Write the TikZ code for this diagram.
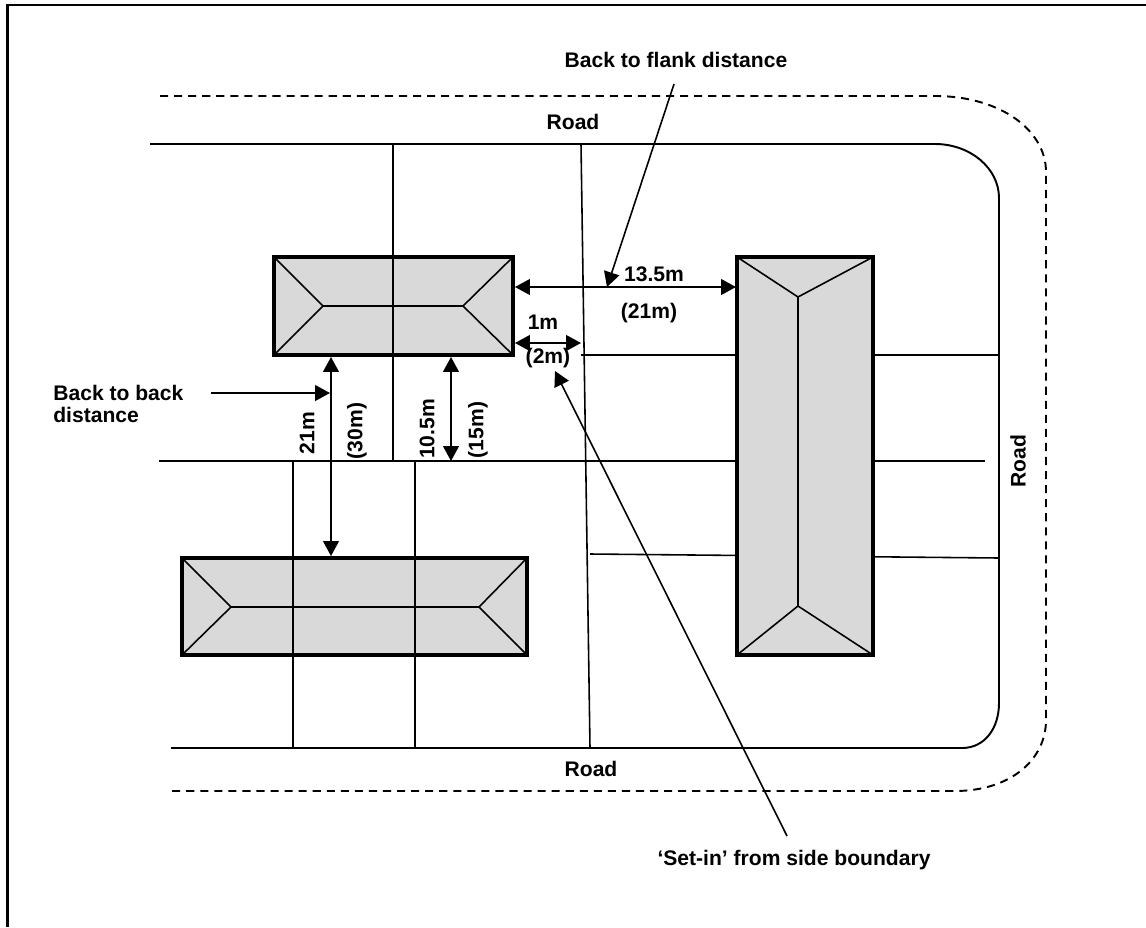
\documentclass[tikz,border=0pt]{standalone}
\usepackage{fontspec}
\setmainfont{Liberation Sans}
\usetikzlibrary{arrows.meta}
\definecolor{roofgrey}{HTML}{D9D9D9}
\tikzset{
    road/.style={line width=1.1pt},
    plotline/.style={line width=0.9pt},
    roofline/.style={line width=0.9pt},
    house/.style={fill=roofgrey, draw=black, line width=2.5pt},
    dimline/.style={line width=0.9pt, {Triangle[length=8.5pt,width=9pt]}-{Triangle[length=8.5pt,width=9pt]}},
    leader/.style={line width=0.9pt, -{Triangle[length=8.5pt,width=9pt]}},
    lbl/.style={font=\fontsize{12}{13}\selectfont\bfseries, inner sep=0pt},
}
\begin{document}
\begin{tikzpicture}[x=0.02cm, y=-0.02cm]
            \useasboundingbox (0, 0) rectangle (1146, 927);
            % frame
            \draw[line width=1.3pt] (7.5, 927) -- (7.5, 5) -- (1146, 5);
            % roads
            \draw[line width=1.1pt, dash pattern=on 4.6pt off 3.4pt] (160, 96) -- (935, 96) .. controls (1000, 96) and (1046, 130) .. (1046, 172) -- (1046, 720) .. controls (1046, 760) and (1010, 791) .. (955, 791) -- (171, 791);
            \draw[road] (150, 144) -- (935, 144) .. controls (970, 144) and (999, 168) .. (999, 198) -- (999, 703) .. controls (999, 728) and (985, 748) .. (962, 748) -- (171, 748);
            % plot boundaries
            \draw[plotline] (393, 144) -- (393, 461);
            \draw[plotline] (581, 144) -- (590, 748);
            \draw[plotline] (159, 461) -- (985, 461);
            \draw[plotline] (293, 461) -- (293, 748);
            \draw[plotline] (415, 461) -- (415, 748);
            \draw[plotline] (581, 355) -- (999, 355);
            \draw[plotline] (590, 554) -- (999, 558);
            % right house
            \draw[house] (737, 257) rectangle (873, 655);
            \draw[roofline] (737, 257) -- (798, 297) -- (873, 257);
            \draw[roofline] (798, 297) -- (798, 606);
            \draw[roofline] (737, 655) -- (798, 606) -- (873, 655);
            % top house
            \begin{scope}
                \draw[house] (274, 257) rectangle (513, 355);
                \draw[roofline] (274, 257) -- (323, 306) -- (274, 355);
                \draw[roofline] (323, 306) -- (463, 306);
                \draw[roofline] (513, 257) -- (463, 306) -- (513, 355);
                \draw[plotline] (393, 257) -- (393, 355);
            \end{scope}
            % bottom house
            \begin{scope}
                \draw[house] (182, 558) rectangle (527, 655);
                \draw[roofline] (182, 558) -- (231, 607) -- (182, 655);
                \draw[roofline] (231, 607) -- (479, 607);
                \draw[roofline] (527, 558) -- (479, 607) -- (527, 655);
                \draw[plotline] (293, 558) -- (293, 655);
                \draw[plotline] (415, 558) -- (415, 655);
            \end{scope}
            % distances
            \coordinate (flank a) at (515, 287);
            \coordinate (flank b) at (736, 287);
            \coordinate (setin a) at (515, 343);
            \coordinate (setin b) at (581, 343);
            \coordinate (back a) at (331, 357);
            \coordinate (back b) at (331, 556);
            \coordinate (rear a) at (451, 357);
            \coordinate (rear b) at (451, 461);
            \draw[dimline] (flank a) -- (flank b);
            \draw[dimline] (setin a) -- (setin b);
            \draw[dimline] (back a) -- (back b);
            \draw[dimline] (rear a) -- (rear b);
            % labels
            \node[lbl] (road top) at (573, 122) {Road};
            \node[lbl] (road bottom) at (591, 769) {Road};
            \node[lbl, rotate=90] (road right) at (1018, 461) {Road};
            \node[lbl] (flank dist) at (676, 60) {Back to flank distance};
            \node[lbl, align=left, anchor=west] (back dist) at (53, 404) {Back to back\\distance};
            \node[lbl] (setin dist) at (794, 860) {‘Set-in’ from side boundary};
            \node[lbl] (flank m) at (654, 274) {13.5m};
            \node[lbl] (flank alt) at (649, 313) {(21m)};
            \node[lbl] (setin m) at (543, 322) {1m};
            \node[lbl] (setin alt) at (548, 358) {(2m)};
            \node[lbl, rotate=90] (back m) at (307, 433) {21m};
            \node[lbl, rotate=90] (back alt) at (357, 431) {(30m)};
            \node[lbl, rotate=90] (rear m) at (427, 429) {10.5m};
            \node[lbl, rotate=90] (rear alt) at (478, 430) {(15m)};
            % leaders
            \coordinate (flank from) at (674, 84);
            \coordinate (flank to) at (607, 287);
            \coordinate (back from) at (211, 393);
            \coordinate (back to) at (330, 393);
            \coordinate (setin from) at (787, 836);
            \coordinate (setin to) at (555, 371);
            \draw[leader] (flank from) -- (flank to);
            \draw[leader] (back from) -- (back to);
            \draw[leader] (setin from) -- (setin to);
        \end{tikzpicture}
\end{document}
